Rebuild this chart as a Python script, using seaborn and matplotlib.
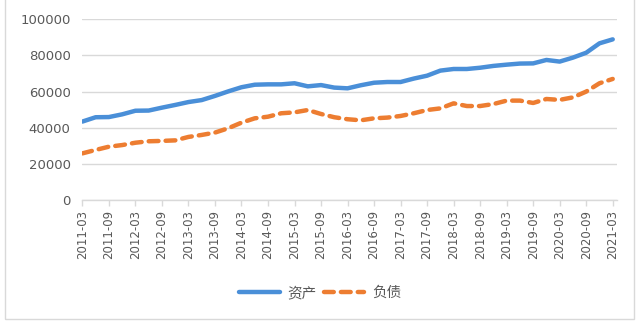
import matplotlib
matplotlib.use("Agg")
import matplotlib.pyplot as plt
from matplotlib.patches import Rectangle
import seaborn as sns
import pandas as pd

# Quarter-end labels, 2011-03 .. 2021-03
quarters = [f"{y}-{m}" for y in range(2011, 2022) for m in ("03", "06", "09", "12")][:41]

assets = [43400, 45800, 45900, 47400, 49400, 49500, 51100, 52600, 54200, 55300,
          57600, 60100, 62400, 63800, 64000, 64000, 64600, 62900, 63600, 62200,
          61800, 63500, 64900, 65300, 65300, 67200, 68800, 71600, 72500, 72500,
          73200, 74200, 74900, 75500, 75600, 77500, 76600, 78800, 81500, 86700,
          88900]
liabilities = [25800, 27700, 29500, 30400, 31700, 32500, 32700, 33000, 34900, 36000,
               37300, 39700, 42800, 45200, 46100, 48000, 48500, 49800, 47600, 45800,
               44700, 44100, 45200, 45600, 46500, 48000, 49800, 50700, 53500, 52000,
               52000, 53100, 55000, 55000, 53700, 55900, 55400, 56800, 60000, 64600,
               67000]
series_names = ["资产", "负债"]
y_ticks = [0, 20000, 40000, 60000, 80000, 100000]

df = pd.DataFrame({"quarter": quarters, "pos": range(len(quarters)),
                   series_names[0]: assets, series_names[1]: liabilities})

sns.set_style("white")
plt.rcParams["font.family"] = ["DejaVu Sans"]

fig = plt.figure(figsize=(6.4, 3.24), dpi=100)
ax = fig.add_axes([81.7 / 640, 124 / 324, 535 / 640, 180.7 / 324])

grid_c = "#d9d9d9"
text_c = "#595959"

sns.lineplot(data=df, x="pos", y=series_names[0], ax=ax, color="#4a8fd8",
             lw=3.2, solid_capstyle="round", label=series_names[0])
sns.lineplot(data=df, x="pos", y=series_names[1], ax=ax, color="#ed7d31",
             lw=3.2, linestyle=(0, (2.2, 1.6)), dash_capstyle="round",
             label=series_names[1])

ax.set_xlim(-0.05, 40.3)
ax.set_ylim(0, 100000)
ax.set_yticks(y_ticks)
ax.set_yticklabels([str(v) for v in y_ticks], fontsize=9.5, color=text_c)
ax.set_xticks(list(df["pos"])[::2])
ax.set_xticklabels(quarters[::2], rotation=90, fontsize=8.5, color=text_c)
ax.tick_params(axis="y", length=0, pad=8)
ax.tick_params(axis="x", length=4, color=grid_c, width=1, pad=3, bottom=True)
ax.set_xlabel("")
ax.set_ylabel("")
ax.grid(axis="y", color=grid_c, lw=1)
ax.set_axisbelow(True)
for side in ("left", "right", "top"):
    ax.spines[side].set_visible(False)
ax.spines["bottom"].set_color(grid_c)
ax.spines["bottom"].set_linewidth(1)

ax.get_legend().remove()
handles, labels = ax.get_legend_handles_labels()
fig.legend(handles, labels, loc="center", bbox_to_anchor=(0.5, 31 / 324),
           ncol=2, frameon=False, handlelength=2.8, handletextpad=0.5,
           columnspacing=0.5,
           prop={"family": ["Noto Sans CJK SC", "DejaVu Sans"], "size": 10.5},
           labelcolor=text_c)

fig.patches.append(Rectangle((5 / 640, 5 / 324), 629 / 640, 1.2,
                             transform=fig.transFigure, fill=False,
                             ec=grid_c, lw=1, clip_on=False))

fig.savefig("out.png", dpi=100, facecolor="white")
